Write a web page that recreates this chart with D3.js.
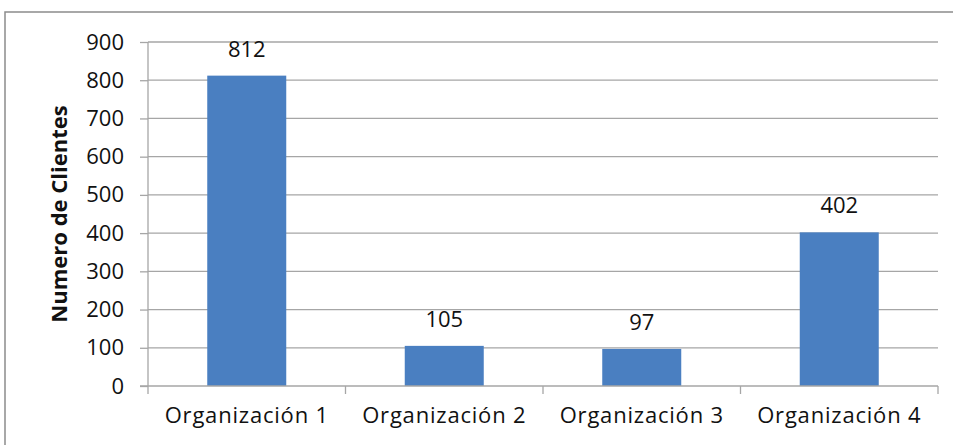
<!DOCTYPE html>
<html><head><meta charset="utf-8">
<script src="https://cdn.jsdelivr.net/npm/d3@7"></script>
<style>body{margin:0;background:#fff;} text{font-family:"Open Sans",sans-serif;fill:#111;}</style>
</head><body>
<svg id="c" width="953" height="445"></svg>
<script>
const categories = ["Organización 1","Organización 2","Organización 3","Organización 4"];
const values = [812,105,97,402];
const yTicks = [0,100,200,300,400,500,600,700,800,900];
const yTitle = "Numero de Clientes";

const svg = d3.select("#c");
const L=148, R=938, T=42, B=386;
const FS = "22px";
svg.append("rect").attr("x",5).attr("y",12).attr("width",1000).attr("height",500)
  .attr("fill","none").attr("stroke","#8c8c8c").attr("stroke-width",1.5);

const x = d3.scaleBand().domain(categories).range([L,R]).paddingInner(0.6).paddingOuter(0.3);
const xc = d3.scaleBand().domain(categories).range([L,R]);
const y = d3.scaleLinear().domain([0,900]).range([B,T]);

svg.append("g").selectAll("line").data(yTicks.filter(d=>d>0)).join("line")
  .attr("x1",L).attr("x2",R).attr("y1",d=>y(d)).attr("y2",d=>y(d))
  .attr("stroke","#a6a6a6").attr("stroke-width",1.3);

const ya = svg.append("g").attr("transform",`translate(${L},0)`)
  .call(d3.axisLeft(y).tickValues(yTicks).tickSize(8).tickPadding(16));
ya.attr("font-size",null).attr("font-family",null);
ya.select(".domain").attr("stroke","#a6a6a6").attr("stroke-width",1.3).attr("d",`M0,${T}V${B}`);
ya.selectAll(".tick line").attr("stroke","#a6a6a6").attr("stroke-width",1.3);
ya.selectAll("text").style("font-size",FS).attr("fill","#111");

svg.append("g").selectAll("rect").data(values).join("rect")
  .attr("x",(d,i)=>x(categories[i])).attr("width",x.bandwidth())
  .attr("y",d=>y(d)).attr("height",d=>B-y(d)).attr("fill","#4a7fc1");

const xa = svg.append("g").attr("transform",`translate(0,${B})`)
  .call(d3.axisBottom(xc).tickSize(0).tickPadding(21));
xa.attr("font-size",null).attr("font-family",null);
xa.select(".domain").remove();
xa.selectAll("text").style("font-size",FS).style("letter-spacing","0.8px").attr("fill","#111");
svg.append("g").selectAll("line").data(d3.range(categories.length+1)).join("line")
  .attr("x1",i=>L+i*xc.step()).attr("x2",i=>L+i*xc.step()).attr("y1",B).attr("y2",B+8)
  .attr("stroke","#a6a6a6").attr("stroke-width",1.3);
svg.append("line").attr("x1",L-8).attr("x2",R).attr("y1",B).attr("y2",B)
  .attr("stroke","#a6a6a6").attr("stroke-width",1.3);

svg.append("g").selectAll("text").data(values).join("text")
  .attr("x",(d,i)=>x(categories[i])+x.bandwidth()/2).attr("y",d=>y(d)-19)
  .attr("text-anchor","middle").style("font-size",FS).text(d=>d);

svg.append("text").attr("transform",`translate(67,${(T+B)/2}) rotate(-90)`)
  .attr("text-anchor","middle").style("font-size","22px").style("font-weight","bold").text(yTitle);
</script>
</body></html>
